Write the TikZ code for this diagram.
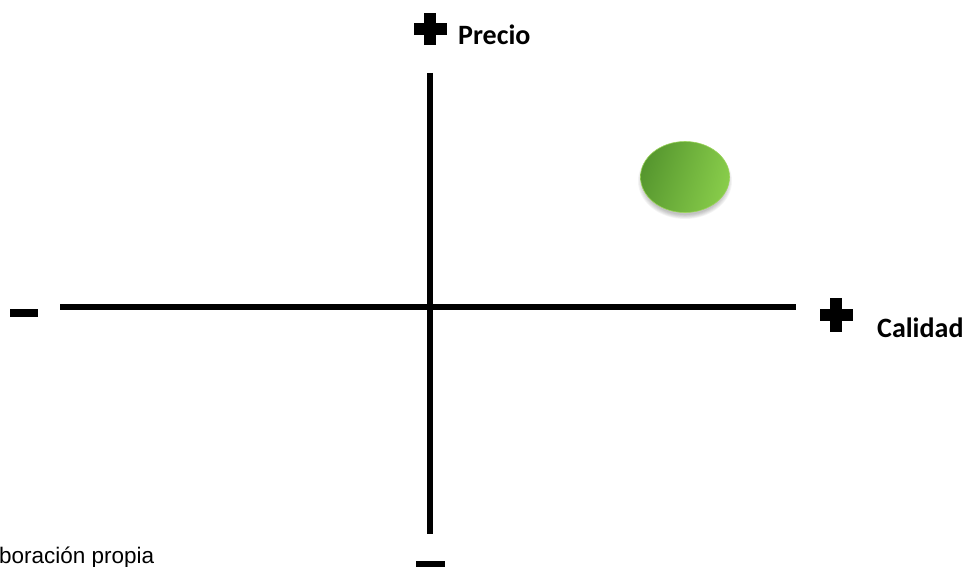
\documentclass[tikz,border=0pt]{standalone}
\usepackage{fontspec}
\setmainfont{Liberation Sans}
\newfontfamily\calib{Carlito}
\usetikzlibrary{shapes.geometric,shadings}
\definecolor{gdark}{HTML}{4E8E2A}
\definecolor{glight}{HTML}{8DD24D}
\definecolor{gedge}{HTML}{9AD35A}
\tikzset{
  axisline/.style={line width=5.5pt, black},
  plussign/.style={fill=black, draw=none},
  minussign/.style={fill=black, draw=none},
  lbl/.style={font=\calib\bfseries\fontsize{28}{30}\selectfont, inner sep=0pt, anchor=base west},
  note/.style={font=\fontsize{22.5}{24}\selectfont, inner sep=0pt, anchor=base west},
  softshadow/.style={fill=black, opacity=0.045, draw=none},
}
\begin{document}
\begin{tikzpicture}[x=1pt,y=-1pt]
\useasboundingbox (0,0) rectangle (974,567);
\clip (0,0) rectangle (974,567);
% axes
\coordinate (vtop) at (430,73);
\coordinate (vbot) at (430,534);
\coordinate (hleft) at (60,307);
\coordinate (hright) at (796,307);
\draw[axisline] (vtop) -- (vbot);
\draw[axisline] (hleft) -- (hright);
% top plus
\fill[plussign] (424,13) rectangle (436,45);
\fill[plussign] (414,23) rectangle (447,35);
% right plus
\fill[plussign] (830,298) rectangle (842,332);
\fill[plussign] (820,309) rectangle (853,321);
% minus signs
\fill[minussign] (10,309) rectangle (38,317);
\fill[minussign] (416,561) rectangle (445,569);
% labels
\node[lbl] (precio) at (458,45) {Precio};
\node[lbl] (calidad) at (877,337) {Calidad};
\node[note] (fuente) at (-1,563) {boración propia};
% soft shadow
\foreach \r in {0,1,2,3,4,5}{
  \fill[softshadow] (685,181) ellipse ({42+\r} and {34+\r*0.8});
}
% ellipse
\node[ellipse, minimum width=89pt, minimum height=71pt, inner sep=0pt,
      draw=gedge, line width=0.6pt,
      upper left=gdark, lower right=glight, upper right=glight!85!gdark, lower left=gdark!75!glight] (dot) at (685,177) {};
\end{tikzpicture}
\end{document}
